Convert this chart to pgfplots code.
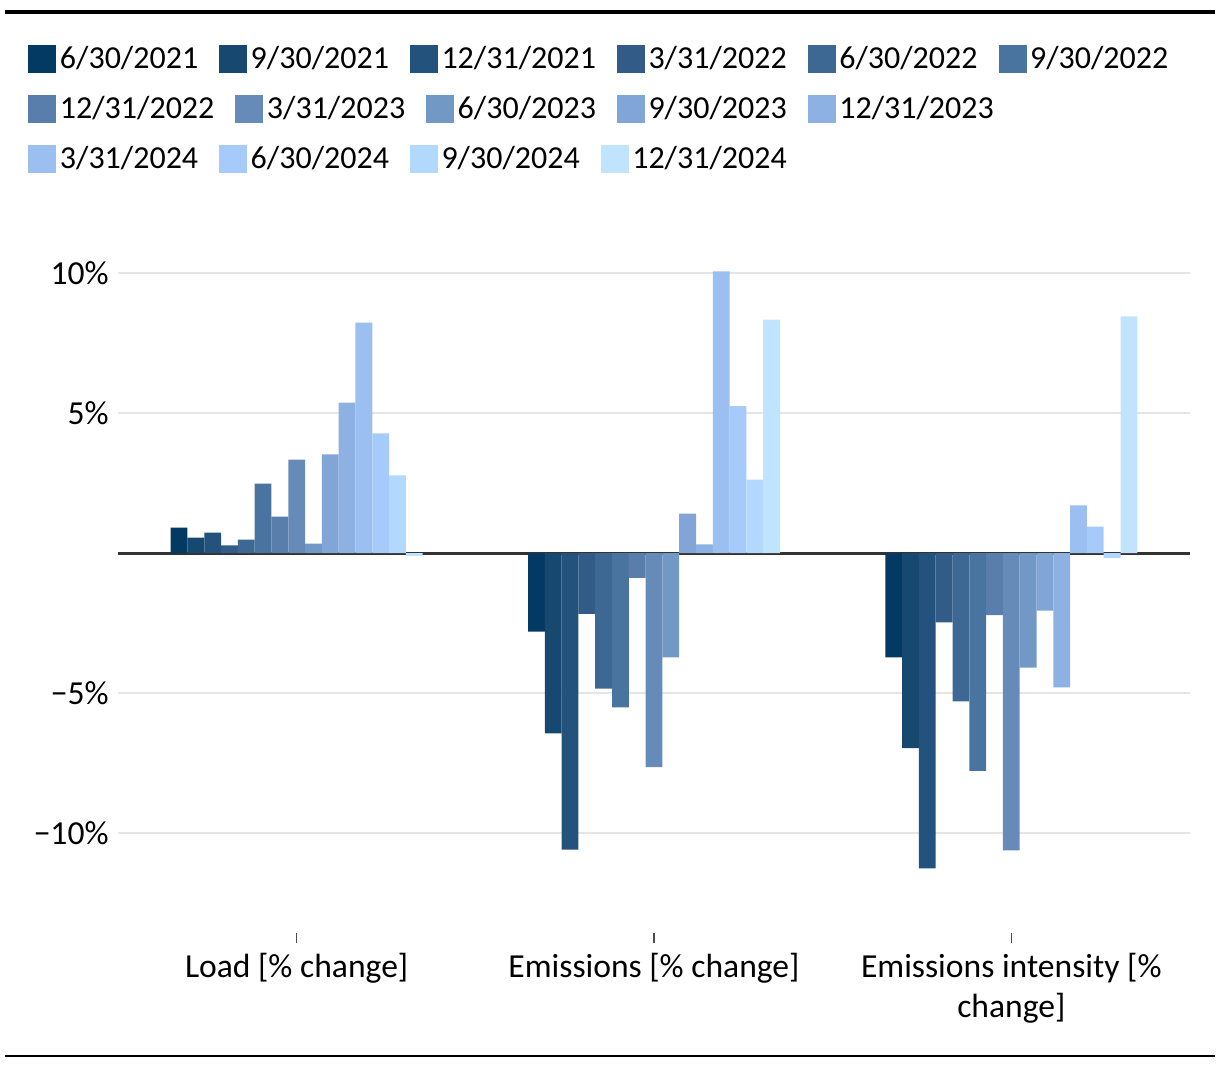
\documentclass[border=0pt]{standalone}
\usepackage{pgfplots}
\pgfplotsset{compat=1.18}
\usepackage{fontspec}
\setmainfont{Carlito}

\definecolor{c1}{HTML}{033A63}
\definecolor{c2}{HTML}{174870}
\definecolor{c3}{HTML}{23527C}
\definecolor{c4}{HTML}{325B88}
\definecolor{c5}{HTML}{3E6894}
\definecolor{c6}{HTML}{4A74A0}
\definecolor{c7}{HTML}{5A7EAC}
\definecolor{c8}{HTML}{678BB9}
\definecolor{c9}{HTML}{7298C6}
\definecolor{c10}{HTML}{80A5D6}
\definecolor{c11}{HTML}{8DB1E3}
\definecolor{c12}{HTML}{9BBFF0}
\definecolor{c13}{HTML}{A6CAF9}
\definecolor{c14}{HTML}{B2D8FE}
\definecolor{c15}{HTML}{C0E4FE}

% 1px of the reference = 0.375pt
\pgfplotsset{
  frame/.style={
    at={(44.25pt,-349.875pt)}, anchor=south west,
    scale only axis, width=402pt, height=259.875pt,
    xmin=-0.5, xmax=2.5, ymin=-13.57, ymax=11.18,
  },
  sq legend/.style={
    legend image code/.code={\fill[##1,draw=none] (0pt,-5.25pt) rectangle (10.5pt,5.25pt);},
  },
  legrow/.style={
    legend columns=-1,
    legend cell align=left,
    legend style={at={(axis description cs:-0.0840,#1)}, anchor=west,
        draw=none, fill=none, inner sep=0pt,
        font=\fontsize{12}{14}\selectfont,
        nodes={inner sep=1.3pt},
        /tikz/every even column/.append style={column sep=6.6pt}},
    every axis plot post/.append style={sq legend},
  },
}

\begin{document}
\begin{tikzpicture}
\path (0,0) rectangle (457.5pt,-400.5pt);
\draw[line width=1.5pt] (1.875pt,-4.5pt) -- (455.6pt,-4.5pt);
\draw[line width=0.75pt] (1.875pt,-396pt) -- (455.6pt,-396pt);

\begin{axis}[
    frame,
    ybar=0pt, bar width=6.3pt,
    legrow=1.2605,
    axis x line*=bottom, axis y line*=left,
    x axis line style={draw=none}, y axis line style={draw=none},
    xtick={0,1,2},
    xticklabels={Load [\% change], Emissions [\% change], {Emissions intensity [\%\\change]}},
    xticklabel style={align=center, font=\fontsize{12.6}{15}\selectfont, yshift=-0.3pt},
    xtick style={draw=black!70, line width=0.4pt},
    major tick length=3.75pt,
    ytick={-10,-5,5,10},
    yticklabels={−10\%, −5\%, 5\%, 10\%},
    yticklabel style={font=\fontsize{12.6}{15}\selectfont},
    ytick style={draw=none},
    ymajorgrids, grid style={draw=black!10, line width=0.75pt},
    extra y ticks={0}, extra y tick labels={},
    extra y tick style={grid style={draw=black!80, line width=1.1pt}},
]
\addplot[fill=c1,draw=none]  coordinates {(0,0.91) (1,-2.81) (2,-3.73)};
\addplot[fill=c2,draw=none]  coordinates {(0,0.55) (1,-6.44) (2,-6.97)};
\addplot[fill=c3,draw=none]  coordinates {(0,0.73) (1,-10.59) (2,-11.26)};
\addplot[fill=c4,draw=none]  coordinates {(0,0.27) (1,-2.17) (2,-2.48)};
\addplot[fill=c5,draw=none]  coordinates {(0,0.48) (1,-4.84) (2,-5.30)};
\addplot[fill=c6,draw=none]  coordinates {(0,2.48) (1,-5.51) (2,-7.78)};
\addplot[fill=c7,draw=none]  coordinates {(0,1.30) (1,-0.89) (2,-2.22)};
\addplot[fill=c8,draw=none]  coordinates {(0,3.34) (1,-7.65) (2,-10.62)};
\addplot[fill=c9,draw=none]  coordinates {(0,0.34) (1,-3.73) (2,-4.09)};
\addplot[fill=c10,draw=none] coordinates {(0,3.52) (1,1.41) (2,-2.06)};
\addplot[fill=c11,draw=none] coordinates {(0,5.37) (1,0.31) (2,-4.80)};
\addplot[fill=c12,draw=none] coordinates {(0,8.23) (1,10.06) (2,1.70)};
\addplot[fill=c13,draw=none] coordinates {(0,4.27) (1,5.25) (2,0.94)};
\addplot[fill=c14,draw=none] coordinates {(0,2.77) (1,2.62) (2,-0.17)};
\addplot[fill=c15,draw=none] coordinates {(0,-0.10) (1,8.34) (2,8.45)};
\legend{6/30/2021, 9/30/2021, 12/31/2021, 3/31/2022, 6/30/2022, 9/30/2022}
\end{axis}

% legend rows 2 and 3 (flowing like the original)
\begin{axis}[frame, hide axis, legrow=1.1883]
\addlegendimage{fill=c7}  \addlegendentry{12/31/2022}
\addlegendimage{fill=c8}  \addlegendentry{3/31/2023}
\addlegendimage{fill=c9}  \addlegendentry{6/30/2023}
\addlegendimage{fill=c10} \addlegendentry{9/30/2023}
\addlegendimage{fill=c11} \addlegendentry{12/31/2023}
\end{axis}
\begin{axis}[frame, hide axis, legrow=1.1162]
\addlegendimage{fill=c12} \addlegendentry{3/31/2024}
\addlegendimage{fill=c13} \addlegendentry{6/30/2024}
\addlegendimage{fill=c14} \addlegendentry{9/30/2024}
\addlegendimage{fill=c15} \addlegendentry{12/31/2024}
\end{axis}
\end{tikzpicture}
\end{document}
